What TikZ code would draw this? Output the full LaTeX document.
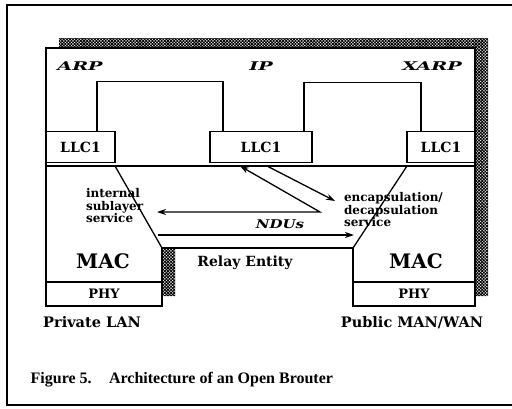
\documentclass[tikz,border=0pt]{standalone}
\usepackage{fontspec}
\setmainfont{DejaVu Serif}
\newfontfamily\capfont{Liberation Serif}
\usetikzlibrary{arrows.meta,patterns.meta}

\begin{document}
\begin{tikzpicture}[x=1pt,y=-1pt,line width=1.3pt,
  box/.style={draw,fill=white,inner sep=0pt,outer sep=0pt},
  lab/.style={inner sep=0pt,outer sep=0pt,font=\bfseries},
  svc/.style={inner sep=0pt,outer sep=0pt,align=left,anchor=west,
    font=\bfseries\fontsize{12}{12.5}\selectfont},
  arr/.style={-{Stealth[length=9pt,width=6pt]}},
  biarr/.style={{Stealth[length=9pt,width=6pt]}-{Stealth[length=9pt,width=6pt]}},
  shadow/.style={pattern={Hatch[angle=45,distance=2.2pt,line width=0.9pt]}},
]
\useasboundingbox (0,0) rectangle (512,408);

% page frame (open on the right)
\draw[line width=1.4pt] (512,5) -- (7,5) -- (7,405) -- (512,405);

% drop shadow of the brouter body
\path[shadow] (59,38) -- (488,38) -- (488,296) -- (366,296) -- (366,238)
  -- (175,238) -- (175,296) -- (59,296) -- cycle;

% brouter body
\draw[fill=white] (46,48) -- (475,48) -- (475,306) -- (353,306) -- (353,248)
  -- (162,248) -- (162,306) -- (46,306) -- cycle;

% LLC1 entities
\node[box,minimum width=69pt,minimum height=31pt] (llcL) at (80.5,147)
  {\bfseries\fontsize{14}{14}\selectfont LLC1};
\node[box,minimum width=102pt,minimum height=31pt] (llcM) at (261,147)
  {\bfseries\fontsize{14}{14}\selectfont LLC1};
\node[box,minimum width=68pt,minimum height=31pt] (llcR) at (441,147)
  {\bfseries\fontsize{14}{14}\selectfont LLC1};

% ARP / IP / XARP attachments
\draw ([xshift=16.5pt]llcL.north) -- ++(0,-50) -| ([xshift=-38pt]llcM.north);
\draw ([xshift=43pt]llcM.north) -- ++(0,-49) -| ([xshift=-20pt]llcR.north);

% sublayer boundary and MAC outlines
\coordinate (bl) at (46,166);
\coordinate (br) at (475,166);
\coordinate (dl) at (115,166);
\coordinate (dr) at (407,166);
\coordinate (ml) at (162,248);
\coordinate (mr) at (353,248);
\draw (bl) -- (br);
\draw (dl) -- (ml);
\draw (dr) -- (mr);

% PHY entities
\node[box,minimum width=116pt,minimum height=24pt] (phyL) at (104,294)
  {\bfseries\fontsize{13}{13}\selectfont PHY};
\node[box,minimum width=122pt,minimum height=24pt] (phyR) at (414,294)
  {\bfseries\fontsize{13}{13}\selectfont PHY};

% labels
\node[lab] (arp) at (80,66) {\fontsize{12}{12}\selectfont\scalebox{1.6}[1]{\itshape ARP}};
\node[lab] (ip) at (261,66) {\fontsize{12}{12}\selectfont\scalebox{1.6}[1]{\itshape IP}};
\node[lab] (xarp) at (432,66) {\fontsize{12}{12}\selectfont\scalebox{1.6}[1]{\itshape XARP}};
\node[lab] (macL) at (103,261) {\fontsize{20}{20}\selectfont MAC};
\node[lab] (macR) at (416,261) {\fontsize{20}{20}\selectfont MAC};
\node[lab] (relay) at (245,263) {\fontsize{14}{14}\selectfont Relay Entity};
\node[svc] (isub) at (86,206) {internal\\sublayer\\service};
\node[svc] (encap) at (344,210) {encapsulation/\\decapsulation\\service};
\node[lab] (ndu) at (280,224) {\fontsize{12}{12}\selectfont\scalebox{1.25}[1]{\itshape NDUs}};
\node[lab,anchor=base] (lan) at (92,327) {\fontsize{14.5}{14.5}\selectfont Private LAN};
\node[lab,anchor=base] (wan) at (412,327) {\fontsize{14.5}{14.5}\selectfont Public MAN/WAN};
\node[inner sep=0pt,anchor=base west] (cap) at (30,383)
  {\capfont\bfseries\fontsize{16}{16}\selectfont Figure 5.\hspace{0.75em} Architecture of an Open Brouter};

% service primitives and NDU flow
\coordinate (e1) at (267,166);
\coordinate (e2) at (335,201);
\coordinate (s1) at (157,212);
\coordinate (s2) at (320,212);
\coordinate (s3) at (240,166);
\coordinate (n1) at (158,235);
\coordinate (n2) at (354,235);
\draw[arr] (e1) -- (e2);
\draw[biarr] (s1) -- (s2) -- (s3);
\draw[arr] (n1) -- (n2);
\end{tikzpicture}
\end{document}
